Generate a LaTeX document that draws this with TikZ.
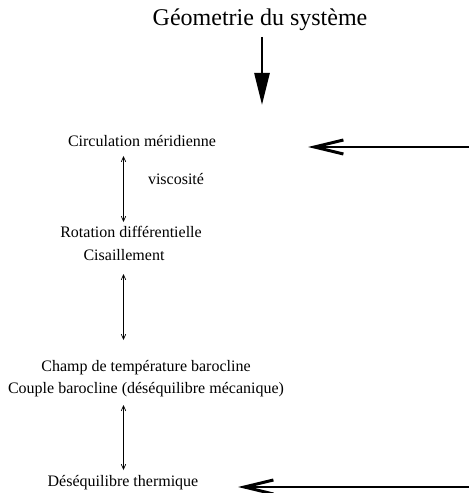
\documentclass[tikz,border=0pt]{standalone}
\usepackage{fontspec}
\setmainfont{Liberation Serif}
\usetikzlibrary{arrows.meta}
\begin{document}
\begin{tikzpicture}[x=1bp,y=-1bp,
  lbl/.style={anchor=base,inner sep=0pt,font=\fontsize{16bp}{18bp}\selectfont},
  ttl/.style={anchor=base,inner sep=0pt,font=\fontsize{24bp}{28bp}\selectfont},
  dbl/.style={line width=0.7bp,{Straight Barb[length=5bp,width=4.5bp]}-{Straight Barb[length=5bp,width=4.5bp]}},
  feed/.style={line width=2bp,-{Straight Barb[length=29bp,width=14bp,line width=3bp 0 1]}},
  down/.style={line width=2.6bp,-{Triangle[length=32bp,width=15bp]}}]
\useasboundingbox (0,0) rectangle (469,493);
\node[ttl] (geo) at (260,26) {Géometrie du système};
\node[lbl] (circ) at (142,147) {Circulation méridienne};
\node[lbl] (visc) at (176,185) {viscosité};
\node[lbl] (rot) at (131,237) {Rotation différentielle};
\node[lbl] (cis) at (124,260) {Cisaillement};
\node[lbl] (champ) at (146,371) {Champ de température barocline};
\node[lbl] (couple) at (146,393) {Couple barocline (déséquilibre mécanique)};
\node[lbl] (deseq) at (123,486) {Déséquilibre thermique};
\coordinate (g1) at (262,37);
\coordinate (g2) at (262,105);
\coordinate (a1) at (123.5,156);
\coordinate (a2) at (123.5,222);
\coordinate (b1) at (123.5,274);
\coordinate (b2) at (123.5,340);
\coordinate (c1) at (123.5,405);
\coordinate (c2) at (123.5,470);
\coordinate (r1) at (469,147);
\coordinate (r1t) at (308,147);
\coordinate (r2) at (469,487);
\coordinate (r2t) at (238,487);
\draw[down] (g1) -- (g2);
\draw[dbl] (a1) -- (a2);
\draw[dbl] (b1) -- (b2);
\draw[dbl] (c1) -- (c2);
\draw[feed] (r1) -- (r1t);
\draw[feed] (r2) -- (r2t);
\end{tikzpicture}
\end{document}
